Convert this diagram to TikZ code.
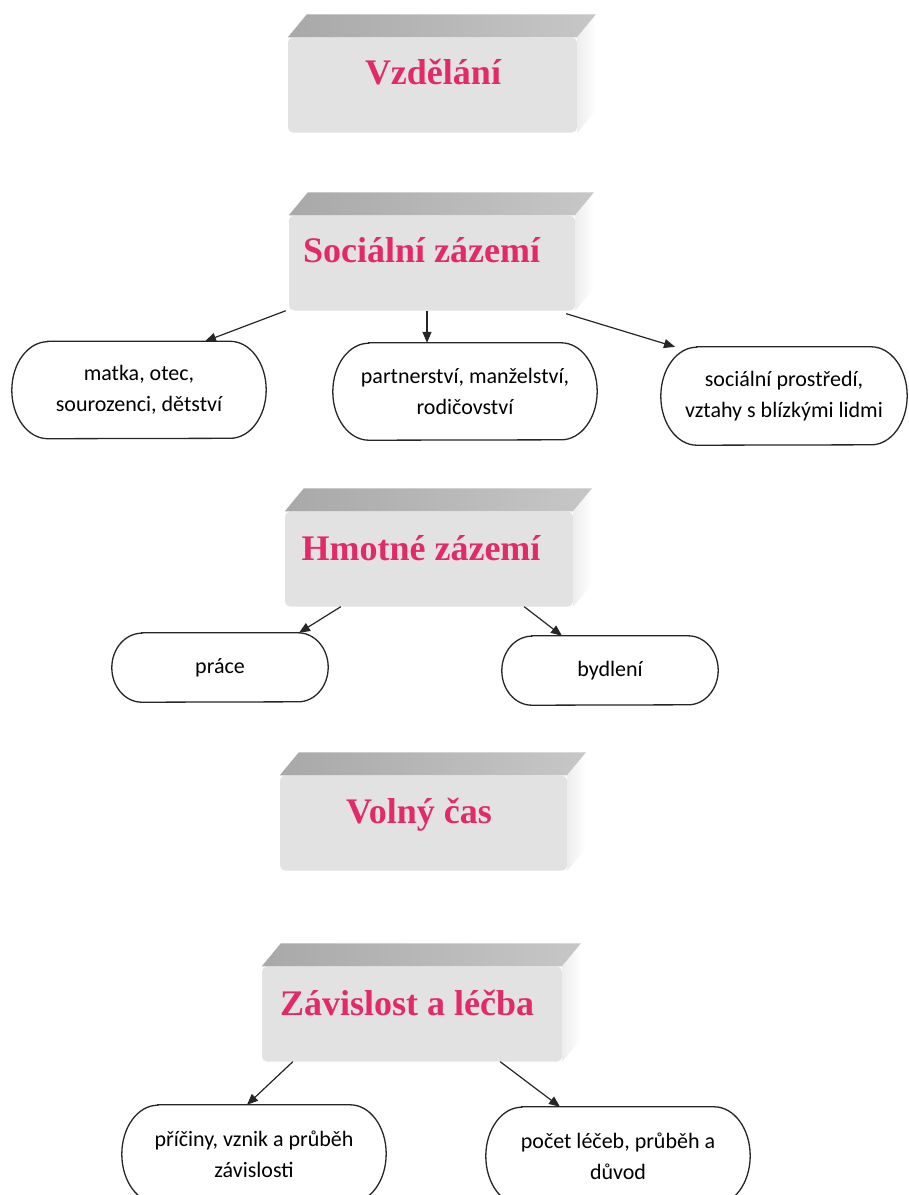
\documentclass[tikz,border=0pt]{standalone}
\usepackage{fontspec}
\setmainfont{Carlito}
\newfontfamily\headfont{Liberation Serif}
\usepackage{xcolor}
\usepackage{tikz}
\usetikzlibrary{positioning}
\usetikzlibrary{arrows, arrows.meta}

\definecolor{headpink}{RGB}{226,42,104}
\definecolor{facegray}{RGB}{226,226,226}

\tikzset{
  blockfront/.style={rectangle, fill=facegray, rounded corners=5pt, inner sep=0pt, minimum height=95},
  headline/.style={font=\headfont\bfseries\fontsize{36}{40}\selectfont, text=headpink, inner sep=0pt},
  leaf/.style={align=center, inner sep=0pt, font=\fontsize{22}{31}\selectfont},
  leafline/.style={draw=black!85, line width=1.3pt},
  arr/.style={draw=black!85, line width=1.2pt, -{Triangle[length=11pt,width=9pt]}}
}

% 3d title block: name, centre of front face, width, text position, text
\newcommand{\headblock}[5]{%
  \node[blockfront, minimum width=#3] (#1b) at (#2) {};
  \shade[left color=black!34, middle color=black!44, right color=black!22]
    (#1b.north west) -- ++(\blockdx,\blockdy) -- ([shift={(\blockdx,\blockdy)}]#1b.north east) -- (#1b.north east) -- cycle;
  \shade[left color=black!7, right color=white]
    (#1b.north east) -- ++(\blockdx,\blockdy) -- ([shift={(\blockdx,\blockdy)}]#1b.south east) -- (#1b.south east) -- cycle;
  \node[headline] (#1) at (#4) {#5};
}

% outline with elliptic ends round a leaf node: name, x radius, y radius
\newcommand{\leafoutline}[3]{%
  \draw[leafline] ([xshift=#2]#1.north west) -- ([xshift=-#2]#1.north east)
    arc[start angle=90, end angle=-90, x radius=#2, y radius=#3]
    -- ([xshift=#2]#1.south west)
    arc[start angle=270, end angle=90, x radius=#2, y radius=#3] -- cycle;
}

\begin{document}
\begin{tikzpicture}[x=1pt, y=1pt]
  \def\blockdx{19}
  \def\blockdy{23}

  \useasboundingbox (0,0) rectangle (909,-1195);
  \fill[white] (0,0) rectangle (909,-1195);
  \clip (0,0) rectangle (909,-1195);

  % title blocks
  \headblock{vzdelani}{432.5,-85}{289}{433,-72}{Vzdělání}
  \headblock{socialni}{432,-263}{286}{421.5,-250}{Sociální zázemí}
  \headblock{hmotne}{429,-559}{288}{421,-548}{Hmotné zázemí}
  \headblock{volny}{423.5,-823}{287}{419,-815}{Volný čas}
  \headblock{zavislost}{412,-1014}{300}{407,-1003}{Závislost a léčba}

  % social
  \node[leaf, minimum width=254, minimum height=97] (rodina) at (139,-390) {matka, otec,\\sourozenci, dětství};
  \node[leaf, minimum width=264, minimum height=97] (partner) at (465,-391.5) {partnerství, manželství,\\rodičovství};
  \node[leaf, minimum width=246, minimum height=98] (prostredi) at (784,-396) {sociální prostředí,\\vztahy s blízkými lidmi};
  \leafoutline{rodina}{36}{48.5}
  \leafoutline{partner}{36}{48.5}
  \leafoutline{prostredi}{36}{49}

  \draw[arr] ([xshift=-3]socialnib.south west) -- ([xshift=66]rodina.north);
  \draw[arr] ([xshift=-5]socialnib.south) -- ([xshift=-38]partner.north);
  \draw[arr] ([xshift=-9,yshift=-3]socialnib.south east) -- ([xshift=-109]prostredi.north);

  % material
  \node[leaf, minimum width=216, minimum height=69] (prace) at (220,-667.5) {práce};
  \node[leaf, minimum width=216, minimum height=69] (bydleni) at (610,-670.5) {bydlení};
  \leafoutline{prace}{30}{34.5}
  \leafoutline{bydleni}{30}{34.5}

  \draw[arr] ([xshift=56]hmotneb.south west) -- ([xshift=79]prace.north);
  \draw[arr] ([xshift=-49]hmotneb.south east) -- ([xshift=-48]bydleni.north);

  % addiction
  \node[leaf, minimum width=264, minimum height=98] (priciny) at (254,-1154) {příčiny, vznik a průběh\\závislosti};
  \node[leaf, minimum width=264, minimum height=98] (pocet) at (618,-1156) {počet léčeb, průběh a\\důvod};
  \leafoutline{priciny}{36}{49}
  \leafoutline{pocet}{36}{49}

  \draw[arr] ([xshift=31]zavislostb.south west) -- ([xshift=-7]priciny.north);
  \draw[arr] ([xshift=-62]zavislostb.south east) -- ([xshift=-58]pocet.north);
\end{tikzpicture}
\end{document}
